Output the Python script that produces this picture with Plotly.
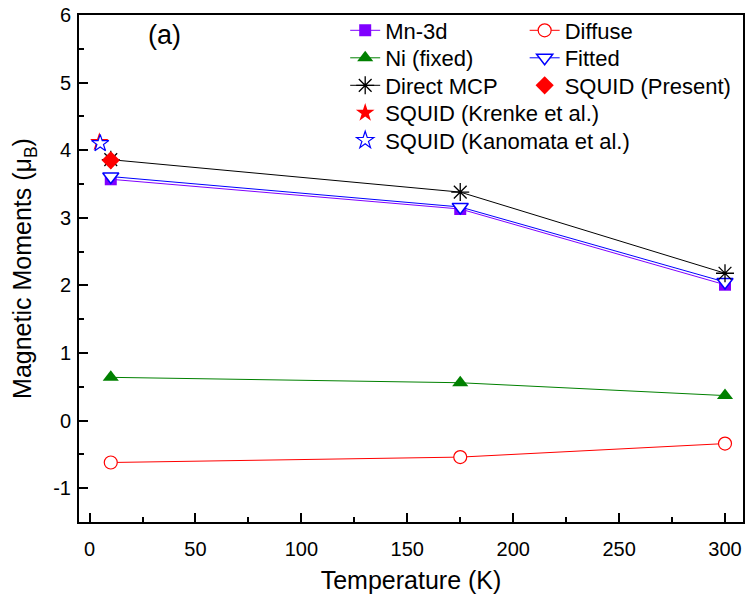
import plotly.graph_objects as go

T = [10, 175, 300]
mn3d = [3.57, 3.13, 2.01]
diffuse = [-0.62, -0.54, -0.34]
ni_fixed = [0.64, 0.56, 0.37]
fitted = [3.61, 3.16, 2.05]
direct_mcp = [3.86, 3.38, 2.18]
squid_present_T = [10]
squid_present = [3.85]
squid_krenke_T = [4.6]
squid_krenke = [4.12]
squid_kanomata_T = [5]
squid_kanomata = [4.10]

xticks = [0, 50, 100, 150, 200, 250, 300]
yticks = [-1, 0, 1, 2, 3, 4, 5, 6]
yticklabels = ["-1", "0", "1", "2", "3", "4", "5", "6"]

FONT = "Liberation Sans, Arial, sans-serif"

W, H = 748, 603
ML, MR, MT, MB = 79, 3, 15, 81
PW, PH = W - ML - MR, H - MT - MB


def px2paper(px, py):
    return (px - ML) / PW, (H - MB - py) / PH


fig = go.Figure()

fig.add_trace(go.Scatter(x=T, y=mn3d, mode="lines+markers", name="Mn-3d",
                         line=dict(color="#8000ff", width=1),
                         marker=dict(symbol="square", size=12, color="#8000ff"),
                         legend="legend"))
fig.add_trace(go.Scatter(x=T, y=diffuse, mode="lines+markers", name="Diffuse",
                         line=dict(color="#ff0000", width=1),
                         marker=dict(symbol="circle", size=13, color="white",
                                     line=dict(color="#ff0000", width=1.2)),
                         legend="legend2"))
fig.add_trace(go.Scatter(x=T, y=ni_fixed, mode="lines+markers", name="Ni (fixed)",
                         line=dict(color="#008000", width=1),
                         marker=dict(symbol="triangle-up", size=14, color="#008000"),
                         legend="legend3"))
fig.add_trace(go.Scatter(x=T, y=fitted, mode="lines+markers", name="Fitted",
                         line=dict(color="#0000ff", width=1),
                         marker=dict(symbol="triangle-down", size=14, color="white",
                                     line=dict(color="#0000ff", width=1.5)),
                         legend="legend4"))
fig.add_trace(go.Scatter(x=T, y=direct_mcp, mode="lines+markers", name="Direct MCP",
                         line=dict(color="black", width=1),
                         marker=dict(symbol="asterisk-open", size=15,
                                     line=dict(color="black", width=1.3)),
                         legend="legend5"))
fig.add_trace(go.Scatter(x=squid_present_T, y=squid_present, mode="markers",
                         name="SQUID (Present)",
                         marker=dict(symbol="diamond", size=14, color="#ff0000"),
                         legend="legend6"))
fig.add_trace(go.Scatter(x=squid_krenke_T, y=squid_krenke, mode="markers",
                         name="SQUID (Krenke et al.)",
                         marker=dict(symbol="star", size=14, color="#ff0000"),
                         legend="legend7"))
fig.add_trace(go.Scatter(x=squid_kanomata_T, y=squid_kanomata, mode="markers",
                         name="SQUID (Kanomata et al.)",
                         marker=dict(symbol="star", size=13, color="white",
                                     line=dict(color="#0000ff", width=1.2)),
                         legend="legend8"))

leg_common = dict(bgcolor="rgba(0,0,0,0)", borderwidth=0,
                  font=dict(family=FONT, size=22, color="black"),
                  orientation="v", xanchor="left", yanchor="middle",
                  itemclick=False, tracegroupgap=0)

col1_x, col2_x = 346, 526
rows_y = [30.5, 58, 85.5, 113, 140.5]
positions = [
    (col1_x, rows_y[0]), (col2_x, rows_y[0]),
    (col1_x, rows_y[1]), (col2_x, rows_y[1]),
    (col1_x, rows_y[2]), (col2_x, rows_y[2]),
    (col1_x, rows_y[3]), (col1_x, rows_y[4]),
]
layout_legends = {}
for i, (px, py) in enumerate(positions):
    name = "legend" if i == 0 else f"legend{i + 1}"
    lx, ly = px2paper(px, py)
    layout_legends[name] = dict(leg_common, x=lx, y=ly)

ax_common = dict(showline=True, linecolor="black", linewidth=2, mirror=True,
                 ticks="inside", ticklen=9, tickwidth=2, tickcolor="black",
                 showgrid=False, zeroline=False,
                 tickfont=dict(family=FONT, size=20, color="black"))

fig.update_layout(
    width=W, height=H,
    margin=dict(l=ML, r=MR, t=MT, b=MB),
    paper_bgcolor="white", plot_bgcolor="white",
    font=dict(family=FONT, color="black"),
    showlegend=True,
    xaxis=dict(ax_common, range=[-5, 308.5], tickvals=xticks,
               ticklabelstandoff=8,
               minor=dict(dtick=25, tick0=0, ticks="inside", ticklen=5,
                          tickwidth=2, tickcolor="black"),
               title=dict(text="Temperature (K)", font=dict(family=FONT, size=25),
                          standoff=12)),
    yaxis=dict(ax_common, range=[-1.5, 6], tickvals=yticks, ticktext=yticklabels,
               ticklabelstandoff=2,
               minor=dict(dtick=0.5, tick0=0, ticks="inside", ticklen=5,
                          tickwidth=2, tickcolor="black"),
               title=dict(text="Magnetic Moments (\u03bc<sub>B</sub>)",
                          font=dict(family=FONT, size=25), standoff=14)),
    annotations=[dict(text="(a)", xref="paper", yref="paper",
                      x=px2paper(165, 35)[0], y=px2paper(165, 35)[1],
                      xanchor="center", yanchor="middle", showarrow=False,
                      font=dict(family=FONT, size=27, color="black"))],
    **layout_legends,
)

fig.write_html("out.html")
